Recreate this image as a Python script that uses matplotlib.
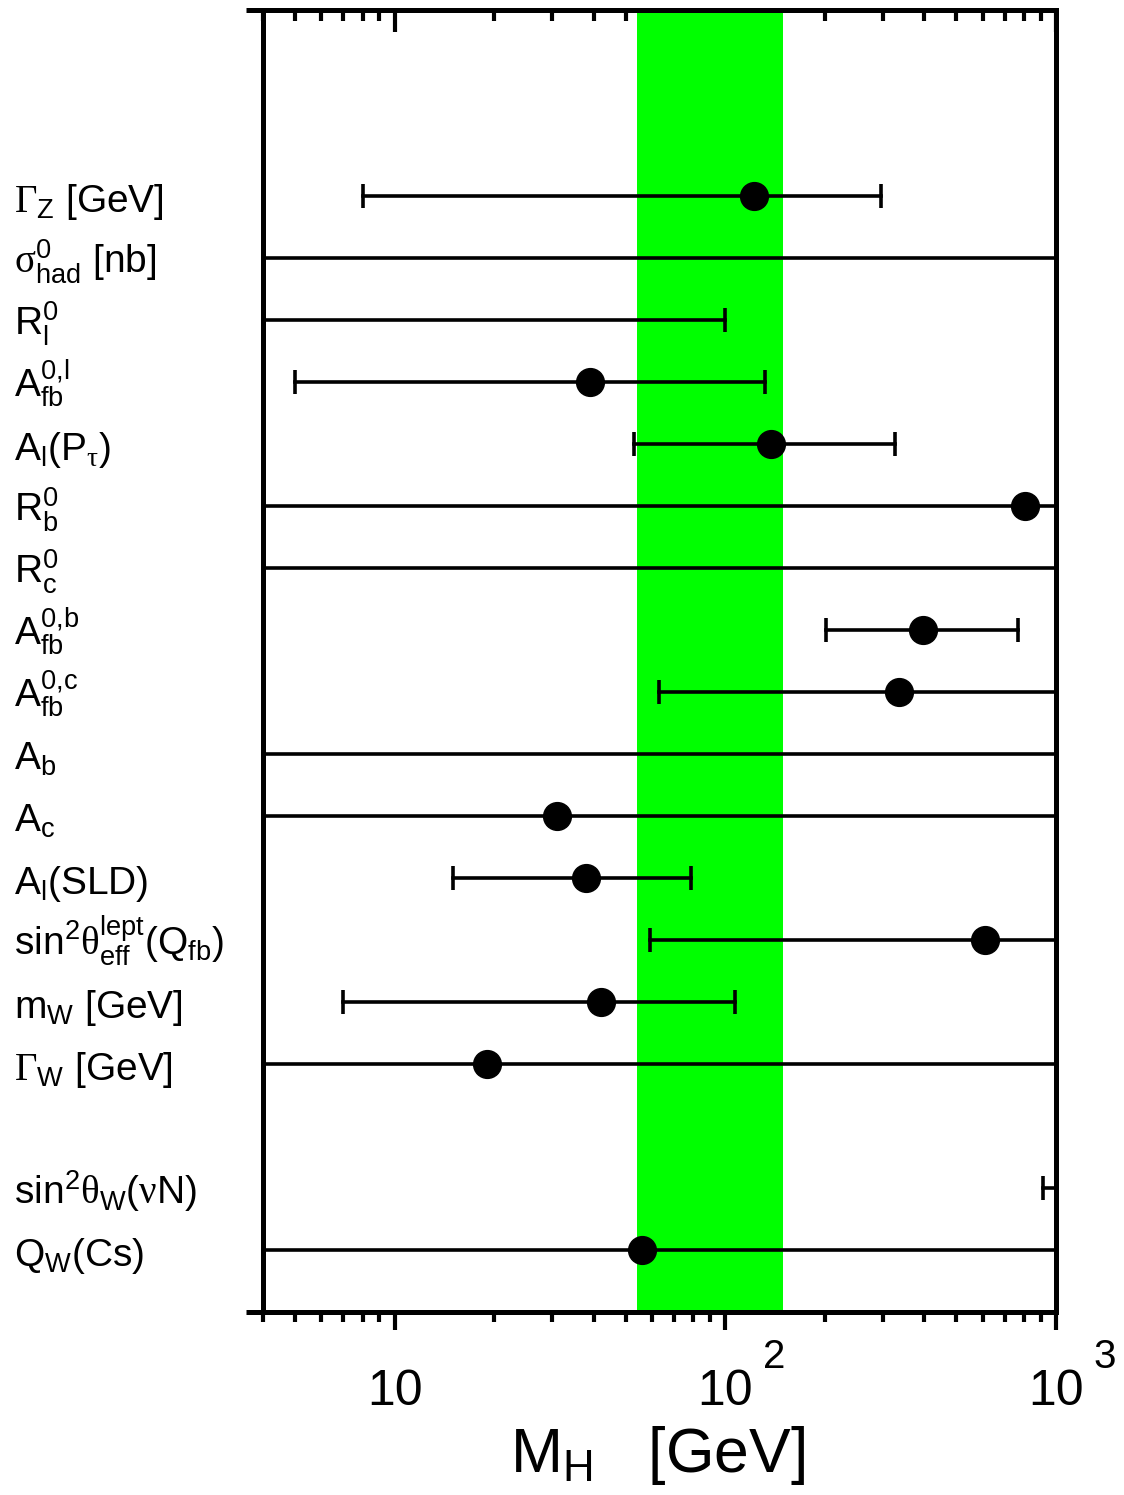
import numpy as np
import matplotlib
matplotlib.use('Agg')
import matplotlib.pyplot as plt
import matplotlib.transforms as mtransforms
from matplotlib.ticker import LogLocator, NullFormatter, FixedLocator

plt.rcParams['font.family'] = ['Liberation Sans', 'DejaVu Sans']
plt.rcParams['mathtext.fontset'] = 'custom'
plt.rcParams['mathtext.rm'] = 'Liberation Sans'
plt.rcParams['mathtext.it'] = 'Liberation Sans'
plt.rcParams['mathtext.bf'] = 'Liberation Sans:bold'
plt.rcParams['mathtext.sf'] = 'Liberation Serif'   # greek letters look like Symbol font

# observables, row positions (gap before the last two)
labels = [r'$\mathsf{\Gamma}_Z$ [GeV]', r'$\mathsf{\sigma}^0_{had}$ [nb]', r'R$^0_l$', r'A$^{0,\!l}_{fb}$',
          r'A$_l$(P$_\mathsf{\tau}$)', r'R$^0_b$', r'R$^0_c$', r'A$^{0,\!b}_{fb}$', r'A$^{0,\!c}_{fb}$',
          r'A$_b$', r'A$_c$', r'A$_l$(SLD)', r'sin$^2\mathsf{\theta}^{lept}_{eff}$(Q$_{fb}$)',
          r'm$_W$ [GeV]', r'$\mathsf{\Gamma}_W$ [GeV]', r'sin$^2\mathsf{\theta}_W$($\mathsf{\nu}$N)', r'Q$_W$(Cs)']
rows = [0, 1, 2, 3, 4, 5, 6, 7, 8, 9, 10, 11, 12, 13, 14, 16, 17]

# fitted M_H per observable (nan = off scale) and 1-sigma interval
mh_fit = [122, np.nan, np.nan, 39, 137, 805, np.nan, 395, 334, np.nan, 31, 38, 609, 42, 19, np.nan, 56]
mh_low = [8, 1, 1, 5, 53, 1, 1, 201, 63, 1, 1, 15, 59, 7, 1, 913, 1]
mh_high = [295, 5000, 100, 132, 327, 5000, 5000, 767, 5000, 5000, 5000, 79, 5000, 107, 5000, 5000, 5000]

band_low, band_high = 54, 149
xmin, xmax = 4, 1000
tick_pos = [10, 100, 1000]
tick_exp = ['', '2', '3']

fig = plt.figure(figsize=(11.24, 14.95), dpi=100)
ax = fig.add_axes([263/1124, 183/1495, 793/1124, 1302/1495])
ax.patch.set_visible(False)

ax.axvspan(band_low, band_high, color='#00ff00', lw=0, zorder=1)

for y, c, lo, hi in zip(rows, mh_fit, mh_low, mh_high):
    ax.plot([lo, hi], [y, y], color='black', lw=2.6, zorder=2)
    for b in (lo, hi):
        if xmin < b < xmax:
            ax.plot([b], [y], marker='|', color='black', ms=17, mew=2.6, zorder=2)
    if not np.isnan(c):
        ax.plot([c], [y], 'o', color='black', ms=20, zorder=3)

ax.set_xscale('log')
ax.set_xlim(xmin, xmax)
ax.set_ylim(18, -3)

for s in ax.spines.values():
    s.set_linewidth(3.6)
    s.set_zorder(4)

ax.set_xticks(tick_pos, ['10'] * 3, va='baseline')
ax.xaxis.set_minor_locator(LogLocator(base=10, subs=np.arange(2, 10)))
ax.xaxis.set_minor_formatter(NullFormatter())
ax.tick_params(axis='x', which='major', direction='out', length=13, width=3, labelsize=36, pad=54)
ax.tick_params(axis='x', which='minor', direction='out', length=7, width=3)
for t, e in zip(tick_pos, tick_exp):
    if e:
        ax.annotate(e, xy=(t, 0), xycoords=('data', 'axes fraction'), xytext=(27, -40),
                    textcoords='offset points', fontsize=29, ha='left', va='baseline',
                    annotation_clip=False)

# top ticks point inward and sit under the green band
top = ax.secondary_xaxis('top')
top.set_zorder(0.5)
top.patch.set_visible(False)
top.set_xticks(tick_pos)
top.xaxis.set_minor_locator(LogLocator(base=10, subs=np.arange(2, 10)))
top.xaxis.set_minor_formatter(NullFormatter())
top.tick_params(axis='x', which='major', direction='in', length=16, width=3, labeltop=False)
top.tick_params(axis='x', which='minor', direction='in', length=8, width=3)
top.spines['top'].set_linewidth(3.6)

ax.yaxis.set_major_locator(FixedLocator([-3, 18]))
ax.tick_params(axis='y', direction='out', length=12, width=3.6, labelleft=False)

trans = mtransforms.blended_transform_factory(fig.transFigure, ax.transData)
for y, lab in zip(rows, labels):
    ax.text(14/1124, y + 0.25, lab, transform=trans, fontsize=28, va='baseline', ha='left')

fig.text(658/1124, 1 - 1472/1495, r'M$_H$   [GeV]', fontsize=45, ha='center', va='baseline')

fig.savefig('out.png', dpi=100)
